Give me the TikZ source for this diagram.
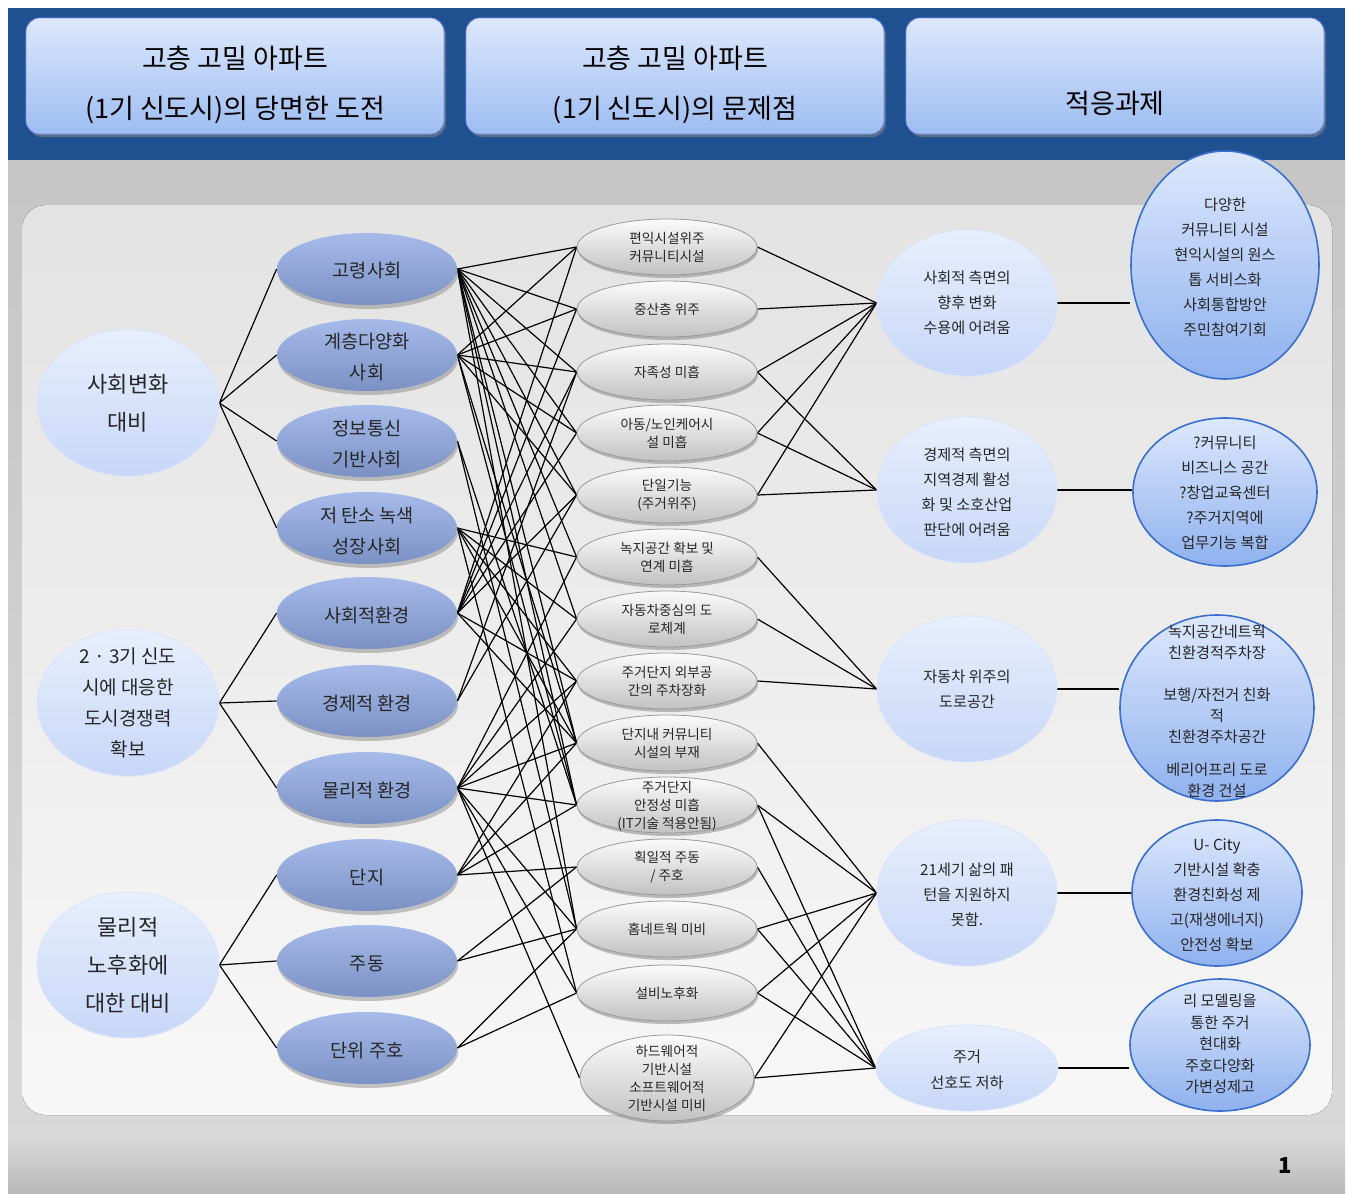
\documentclass[tikz,border=0pt]{standalone}
\usepackage{fontspec}
\setmainfont{Noto Sans CJK KR}
\usetikzlibrary{shapes.geometric,shadows}

\definecolor{hdrblue}{HTML}{1F5190}
\definecolor{boxtop}{HTML}{DDE8FC}
\definecolor{boxbot}{HTML}{9DBDF2}
\definecolor{lvtop}{HTML}{A6BBEA}
\definecolor{lvbot}{HTML}{7B91C4}
\definecolor{cirtop}{HTML}{E8EFFD}
\definecolor{cirbot}{HTML}{C8D7F8}
\definecolor{midtop}{HTML}{FBFBFB}
\definecolor{midbot}{HTML}{C2C2C2}
\definecolor{fivetop}{HTML}{DDE8FD}
\definecolor{fivebot}{HTML}{8FB1EE}
\definecolor{fiveline}{HTML}{3A6ECF}

\pgfdeclarelayer{back}
\pgfdeclarelayer{wires}
\pgfsetlayers{back,wires,main}

\tikzset{
  hdrbox/.style={rectangle, rounded corners=7pt, draw=boxbot!80!blue, top color=boxtop, bottom color=boxbot,
    minimum width=209pt, minimum height=58pt, drop shadow={shadow xshift=1pt, shadow yshift=-1.5pt, opacity=0.6}},
  lvone/.style={ellipse, draw=cirbot!70!white, top color=cirtop, bottom color=cirbot, minimum width=91pt, minimum height=73pt},
  lvtwo/.style={ellipse, top color=lvtop, bottom color=lvbot, minimum width=90pt, minimum height=36pt,
    drop shadow={shadow xshift=0.5pt, shadow yshift=-2pt, opacity=0.45}},
  midbub/.style={ellipse, draw=gray!80, top color=midtop, bottom color=midbot, minimum width=90pt, minimum height=28pt,
    drop shadow={shadow xshift=0.5pt, shadow yshift=-1.5pt, opacity=0.5}},
  lvfour/.style={ellipse, draw=cirbot!70!white, top color=cirtop, bottom color=cirbot, minimum width=90pt, minimum height=73pt},
  lvfive/.style={ellipse, draw=fiveline, line width=0.8pt, top color=fivetop, bottom color=fivebot},
  thead/.style={align=center, font=\fontsize{13.5}{25}\selectfont},
  tone/.style={align=center, font=\fontsize{11}{19}\selectfont, text=black!85},
  tcity/.style={align=center, font=\fontsize{9.5}{15.5}\selectfont, text=black!85},
  ttwo/.style={align=center, font=\fontsize{9.3}{15.5}\selectfont, text=black!85},
  tmid/.style={align=center, font=\fontsize{6.8}{9}\selectfont, text=black!85},
  tfour/.style={align=center, font=\fontsize{7.6}{12.5}\selectfont, text=black!85},
  tfive/.style={align=center, font=\fontsize{7.6}{12.5}\selectfont, text=black!85},
  wire/.style={black, line width=0.6pt}
}

\begin{document}
\begin{tikzpicture}[x=0.5pt, y=-0.5pt]
\useasboundingbox (0,0) rectangle (1351,1194);

% background
\begin{pgfonlayer}{back}
\fill[white] (0,0) rectangle (1351,1194);
\fill[hdrblue] (8,8) rectangle (1345,160);
\fill[top color=gray!45, bottom color=gray!30] (8,160) rectangle (1345,1135);
\fill[rounded corners=12pt, top color=gray!22, bottom color=gray!6] (22,205) rectangle (1332,1115);
\fill[top color=gray!30, bottom color=gray!55] (8,1135) rectangle (1345,1194);
\end{pgfonlayer}

\node[font=\bfseries\fontsize{11}{11}\selectfont] (pg) at (1285,1166) {1};

% header
\node[hdrbox] (h1) at (235,76) {};
\node[hdrbox] (h2) at (675,76) {};
\node[hdrbox] (h3) at (1115,76) {};
\node[thead] (h1t) at (235,85) {고층 고밀 아파트\\(1기 신도시)의 당면한 도전};
\node[thead] (h2t) at (675,85) {고층 고밀 아파트\\(1기 신도시)의 문제점};
\node[thead] (h3t) at (1115,103) {적응과제};

% first column
\node[lvone] (soc) at (128,403) {};
\node[tone] (soct) at (soc) {사회변화\\대비};
\node[lvone] (city) at (128,703) {};
\node[tcity] (cityt) at (city) {2 · 3기 신도\\시에 대응한\\도시경쟁력\\확보};
\node[lvone] (age) at (128,965) {};
\node[tone] (aget) at (age) {물리적\\노후화에\\대한 대비};

% second column
\node[lvtwo] (a1) at (367,269) {};
\node[ttwo] (a1t) at (367,271) {고령사회};
\node[lvtwo] (a2) at (367,355) {};
\node[ttwo] (a2t) at (367,357) {계층다양화\\사회};
\node[lvtwo] (a3) at (367,441) {};
\node[ttwo] (a3t) at (367,444) {정보통신\\기반사회};
\node[lvtwo] (a4) at (367,528) {};
\node[ttwo] (a4t) at (367,531) {저 탄소 녹색\\성장사회};
\node[lvtwo] (a5) at (367,613) {};
\node[ttwo] (a5t) at (367,616) {사회적환경};
\node[lvtwo] (a6) at (367,701) {};
\node[ttwo] (a6t) at (367,704) {경제적 환경};
\node[lvtwo] (a7) at (367,788) {};
\node[ttwo] (a7t) at (367,791) {물리적 환경};
\node[lvtwo] (a8) at (367,875) {};
\node[ttwo] (a8t) at (367,878) {단지};
\node[lvtwo] (a9) at (367,961) {};
\node[ttwo] (a9t) at (367,964) {주동};
\node[lvtwo] (a10) at (367,1048) {};
\node[ttwo] (a10t) at (367,1051) {단위 주호};

% third column
\node[midbub] (m1) at (667,247) {};
\node[tmid] (m1t) at (m1) {편익시설위주\\커뮤니티시설};
\node[midbub] (m2) at (667,309) {};
\node[tmid] (m2t) at (m2) {중산층 위주};
\node[midbub] (m3) at (667,372) {};
\node[tmid] (m3t) at (m3) {자족성 미흡};
\node[midbub] (m4) at (667,433) {};
\node[tmid] (m4t) at (m4) {아동/노인케어시\\설 미흡};
\node[midbub] (m5) at (667,495) {};
\node[tmid] (m5t) at (m5) {단일기능\\(주거위주)};
\node[midbub] (m6) at (667,557) {};
\node[tmid] (m6t) at (m6) {녹지공간 확보 및\\연계 미흡};
\node[midbub] (m7) at (667,619) {};
\node[tmid] (m7t) at (m7) {자동차중심의 도\\로체계};
\node[midbub] (m8) at (667,681) {};
\node[tmid] (m8t) at (m8) {주거단지 외부공\\간의 주차장화};
\node[midbub] (m9) at (667,743) {};
\node[tmid] (m9t) at (m9) {단지내 커뮤니티\\시설의 부재};
\node[midbub] (m10) at (667,805) {};
\node[tmid] (m10t) at (667,806) {주거단지\\안정성 미흡\\(IT기술 적용안됨)};
\node[midbub] (m11) at (667,867) {};
\node[tmid] (m11t) at (m11) {획일적 주동\\/ 주호};
\node[midbub] (m12) at (667,929) {};
\node[tmid] (m12t) at (m12) {홈네트웍 미비};
\node[midbub] (m13) at (667,993) {};
\node[tmid] (m13t) at (m13) {설비노후화};
\node[midbub, minimum width=87pt, minimum height=43pt] (m14) at (667,1078) {};
\node[tmid] (m14t) at (m14) {하드웨어적\\기반시설\\소프트웨어적\\기반시설 미비};

% fourth column
\node[lvfour] (r1) at (967,303) {};
\node[tfour] (r1t) at (r1) {사회적 측면의\\향후 변화\\수용에 어려움};
\node[lvfour] (r2) at (967,490) {};
\node[tfour] (r2t) at (967,492) {경제적 측면의\\지역경제 활성\\화 및 소호산업\\판단에 어려움};
\node[lvfour] (r3) at (967,689) {};
\node[tfour] (r3t) at (r3) {자동차 위주의\\도로공간};
\node[lvfour] (r4) at (967,893) {};
\node[tfour] (r4t) at (967,895) {21세기 삶의 패\\턴을 지원하지\\못함.};
\node[lvfour, minimum width=91pt, minimum height=43pt] (r5) at (967,1068) {};
\node[tfour, font=\fontsize{7.6}{13}\selectfont] (r5t) at (967,1070) {주거\\선호도 저하};

% fifth column
\node[lvfive, minimum width=94pt, minimum height=114pt] (s1) at (1225,265) {};
\node[tfive] (s1t) at (1225,267) {다양한\\커뮤니티 시설\\현익시설의 원스\\톱 서비스화\\사회통합방안\\주민참여기회};
\node[lvfive, minimum width=92pt, minimum height=74pt] (s2) at (1225,492) {};
\node[tfive] (s2t) at (1225,493) {?커뮤니티\\비즈니스 공간\\?창업교육센터\\?주거지역에\\업무기능 복합};
\node[lvfive, minimum width=97pt, minimum height=93pt] (s3) at (1217,708) {};
\node[tfive, font=\fontsize{7.6}{10.5}\selectfont] (s3t) at (1217,711) {녹지공간네트웍\\친환경적주차장\\[10.5pt]보행/자전거 친화\\적\\친환경주차공간\\[6pt]베리어프리 도로\\환경 건설};
\node[lvfive, minimum width=85pt, minimum height=73pt] (s4) at (1217,893) {};
\node[tfive] (s4t) at (1217,895) {U- City\\기반시설 확충\\환경친화성 제\\고(재생에너지)\\안전성 확보};
\node[lvfive, minimum width=90pt, minimum height=66pt] (s5) at (1220,1045) {};
\node[tfive, font=\fontsize{7.6}{10.8}\selectfont] (s5t) at (1220,1044) {리 모델링을\\통한 주거\\현대화\\주호다양화\\가변성제고};

% connectors
\begin{pgfonlayer}{wires}
\foreach \b in {a1,a2,a3,a4} \draw[wire] (soc.east) -- (\b.west);
\foreach \b in {a5,a6,a7} \draw[wire] (city.east) -- (\b.west);
\foreach \b in {a8,a9,a10} \draw[wire] (age.east) -- (\b.west);

\foreach \a/\bs in {a1/{m1,m2,m3,m4,m5,m6,m7,m9,m10,m12},
                    a2/{m1,m2,m3,m4,m5,m9,m10},
                    a3/{m10,m12},
                    a4/{m6,m7,m8,m9,m13},
                    a5/{m1,m2,m3,m4,m5,m8,m9},
                    a6/{m3,m5},
                    a7/{m6,m7,m8,m9,m10,m12,m13,m14},
                    a8/{m8,m9,m10,m11},
                    a9/{m11,m12},
                    a10/{m12,m13}}
  \foreach \b in \bs \draw[wire] (\a.east) -- (\b.west);

\foreach \a/\bs in {r1/{m1,m2,m3,m4,m5},
                    r2/{m3,m4,m5},
                    r3/{m6,m7,m8},
                    r4/{m9,m10,m12,m13,m14},
                    r5/{m10,m11,m12,m13,m14}}
  \foreach \b in \bs \draw[wire] (\b.east) -- (\a.west);

\foreach \a/\b in {r1/s1,r2/s2,r3/s3,r4/s4,r5/s5}
  \draw[wire] (\a.east) -- (\a.east -| \b.west);
\end{pgfonlayer}
\end{tikzpicture}
\end{document}
